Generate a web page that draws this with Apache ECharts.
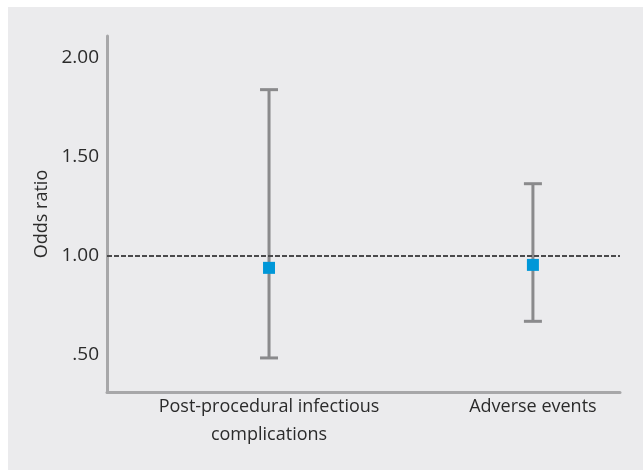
<!DOCTYPE html>
<html>
<head>
<meta charset="utf-8">
<script src="https://cdn.jsdelivr.net/npm/echarts@6/dist/echarts.min.js"></script>
<style>
    html, body { margin: 0; padding: 0; background: #ffffff; }
    #chart { position: absolute; left: 8px; top: 7px; width: 635px; height: 463px; background: #ebebed; }
</style>
</head>
<body>
<div id="chart"></div>
<script>
// data
const categories = ['Post-procedural infectious\ncomplications', 'Adverse events'];
const oddsRatio = [0.94, 0.955];
const ciLower = [0.485, 0.67];
const ciUpper = [1.84, 1.365];
const yTicks = [0.5, 1.0, 1.5, 2.0];
const yTickLabels = ['.50', '1.00', '1.50', '2.00'];
const referenceValue = 1.0;

const textColor = '#2b2b2b';
const fontFamily = '"Open Sans", sans-serif';

let chart = echarts.init(document.getElementById('chart'));

let option = {
    animation: false,
    grid: { left: 99, right: 23, top: 29, bottom: 78 },
    xAxis: {
        type: 'value',
        min: -0.614,
        max: 1.33,
        minInterval: 1,
        maxInterval: 1,
        splitLine: { show: false },
        axisTick: { show: false },
        axisLine: { show: true, onZero: false, lineStyle: { color: '#a7a7a9', width: 3 } },
        axisLabel: {
            margin: 1,
            color: textColor,
            fontFamily: fontFamily,
            fontSize: 18,
            lineHeight: 28,
            formatter: (v) => {
                let i = Math.round(v);
                return Math.abs(v - i) < 1e-6 && categories[i] !== undefined ? categories[i] : '';
            }
        }
    },
    yAxis: {
        type: 'value',
        min: 0.313,
        max: 2.111,
        minInterval: 0.5,
        maxInterval: 0.5,
        name: 'Odds ratio',
        nameLocation: 'middle',
        nameGap: 46,
        nameTextStyle: { color: textColor, fontFamily: fontFamily, fontSize: 18 },
        splitLine: { show: false },
        axisTick: { show: false },
        axisLine: { show: true, onZero: false, lineStyle: { color: '#a7a7a9', width: 3 } },
        axisLabel: {
            margin: 8,
            color: textColor,
            fontFamily: fontFamily,
            fontSize: 19,
            formatter: (v) => {
                let idx = yTicks.findIndex(t => Math.abs(t - v) < 1e-6);
                return idx >= 0 ? yTickLabels[idx] : '';
            }
        }
    },
    series: [
        {
            // reference line at OR = 1
            type: 'line',
            data: [],
            z: 1,
            markLine: {
                silent: true,
                symbol: 'none',
                label: { show: false },
                lineStyle: { color: '#4a4a4c', type: [5, 2], width: 2 },
                data: [{ yAxis: referenceValue }]
            }
        },
        {
            type: 'custom',
            z: 2,
            encode: { x: 0, y: [1, 2] },
            data: categories.map((c, i) => [i, ciLower[i], ciUpper[i]]),
            renderItem: (params, api) => {
                let x = api.value(0);
                let lo = api.coord([x, api.value(1)]);
                let hi = api.coord([x, api.value(2)]);
                let half = 9;
                let style = { stroke: '#8a8a8c', lineWidth: 3 };
                return {
                    type: 'group',
                    children: [
                        { type: 'line', shape: { x1: hi[0], y1: hi[1], x2: lo[0], y2: lo[1] }, style: style },
                        { type: 'line', shape: { x1: hi[0] - half, y1: hi[1], x2: hi[0] + half, y2: hi[1] }, style: style },
                        { type: 'line', shape: { x1: lo[0] - half, y1: lo[1], x2: lo[0] + half, y2: lo[1] }, style: style }
                    ]
                };
            }
        },
        {
            type: 'scatter',
            z: 3,
            symbol: 'rect',
            symbolSize: 12,
            itemStyle: { color: '#0097d8', opacity: 1 },
            data: oddsRatio.map((v, i) => [i, v])
        }
    ]
};

chart.setOption(option);
</script>
</body>
</html>
